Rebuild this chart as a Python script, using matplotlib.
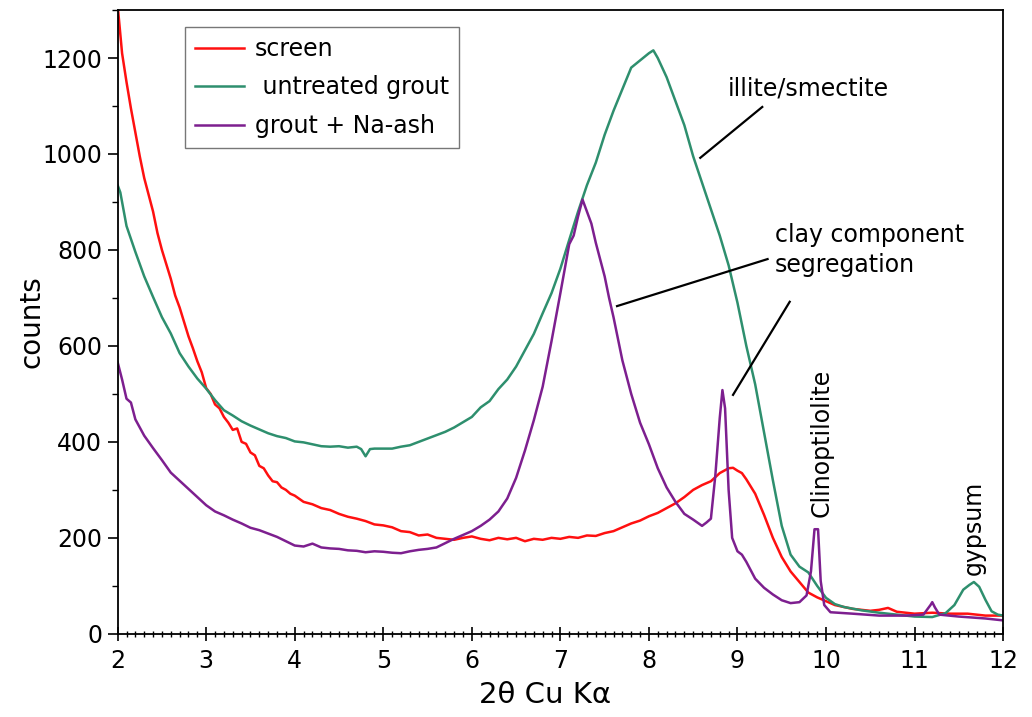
#!/usr/bin/env python3
"""
XRD pattern comparison: screen, untreated grout and grout + Na-ash
"""

import matplotlib
matplotlib.use("Agg")
import matplotlib.pyplot as plt
from matplotlib.ticker import MultipleLocator

# screen (red)
screen_x = [2.00, 2.05, 2.10, 2.15, 2.20, 2.25, 2.30, 2.35, 2.40, 2.45, 2.50, 2.55,
            2.60, 2.65, 2.70, 2.75, 2.80, 2.85, 2.90, 2.95, 3.00, 3.05, 3.10, 3.15,
            3.20, 3.25, 3.30, 3.35, 3.40, 3.45, 3.50, 3.55, 3.60, 3.65, 3.70, 3.75,
            3.80, 3.85, 3.90, 3.95, 4.00, 4.10, 4.20, 4.30, 4.40, 4.50, 4.60, 4.70,
            4.80, 4.90, 5.00, 5.10, 5.20, 5.30, 5.40, 5.50, 5.60, 5.70, 5.80, 5.90,
            6.00, 6.10, 6.20, 6.30, 6.40, 6.50, 6.60, 6.70, 6.80, 6.90, 7.00, 7.10,
            7.20, 7.30, 7.40, 7.50, 7.60, 7.70, 7.80, 7.90, 8.00, 8.10, 8.20, 8.30,
            8.40, 8.50, 8.60, 8.70, 8.80, 8.90, 8.95, 9.00, 9.05, 9.10, 9.20, 9.30,
            9.40, 9.50, 9.60, 9.70, 9.80, 9.90, 10.00, 10.10, 10.20, 10.30, 10.40,
            10.50, 10.60, 10.70, 10.80, 10.90, 11.00, 11.20, 11.40, 11.60, 11.80, 12.00]
screen_y = [1310, 1210, 1150, 1095, 1045, 995, 950, 915, 880, 835, 800, 770,
            740, 705, 680, 650, 620, 595, 568, 545, 512, 500, 478, 470,
            452, 440, 425, 428, 400, 396, 378, 372, 350, 345, 330, 318,
            316, 305, 300, 292, 288, 275, 270, 262, 258, 250, 244, 240,
            235, 228, 226, 222, 214, 212, 205, 207, 200, 198, 196, 200,
            203, 198, 195, 200, 197, 200, 193, 198, 196, 200, 198, 202,
            200, 205, 204, 210, 214, 222, 230, 236, 245, 252, 262, 272,
            285, 300, 310, 318, 335, 345, 346, 340, 335, 322, 292, 248,
            200, 160, 130, 108, 86, 76, 68, 60, 56, 52, 50,
            48, 50, 54, 46, 44, 42, 44, 42, 42, 38, 38]

# untreated grout (green)
grout_x = [2.00, 2.03, 2.10, 2.20, 2.30, 2.40, 2.50, 2.60, 2.70, 2.80, 2.90, 3.00,
           3.10, 3.20, 3.30, 3.40, 3.50, 3.60, 3.70, 3.80, 3.90, 4.00, 4.10, 4.20,
           4.30, 4.40, 4.50, 4.60, 4.70, 4.75, 4.80, 4.85, 4.90, 5.00, 5.10, 5.20,
           5.30, 5.40, 5.50, 5.60, 5.70, 5.80, 5.90, 6.00, 6.10, 6.20, 6.30, 6.40,
           6.50, 6.60, 6.70, 6.80, 6.90, 7.00, 7.10, 7.20, 7.30, 7.40, 7.50, 7.60,
           7.70, 7.80, 7.90, 8.00, 8.05, 8.10, 8.20, 8.30, 8.40, 8.50, 8.60, 8.70,
           8.80, 8.90, 9.00, 9.10, 9.20, 9.30, 9.40, 9.50, 9.60, 9.70, 9.80, 9.90,
           10.00, 10.10, 10.20, 10.40, 10.60, 10.80, 11.00, 11.20, 11.35, 11.45,
           11.55, 11.62, 11.67, 11.73, 11.80, 11.87, 11.94, 12.00]
grout_y = [935, 920, 850, 796, 745, 702, 660, 626, 585, 557, 532, 511,
           487, 466, 455, 443, 434, 426, 418, 412, 408, 401, 399, 395,
           391, 390, 391, 388, 390, 385, 370, 385, 386, 386, 386, 390,
           393, 400, 407, 414, 421, 430, 441, 452, 472, 485, 510, 530,
           557, 591, 625, 668, 710, 761, 821, 880, 935, 982, 1040, 1090,
           1135, 1180, 1195, 1210, 1216, 1200, 1160, 1110, 1060, 995, 940, 885,
           830, 768, 690, 600, 520, 420, 320, 225, 165, 140, 128, 100,
           75, 62, 56, 49, 44, 40, 36, 35, 43, 60,
           92, 102, 108, 98, 71, 47, 40, 38]

# grout + Na-ash (purple)
ash_x = [2.00, 2.05, 2.10, 2.15, 2.20, 2.30, 2.40, 2.50, 2.60, 2.70, 2.80, 2.90,
         3.00, 3.10, 3.20, 3.30, 3.40, 3.50, 3.60, 3.70, 3.80, 3.90, 4.00, 4.10,
         4.20, 4.30, 4.40, 4.50, 4.60, 4.70, 4.80, 4.90, 5.00, 5.10, 5.20, 5.30,
         5.40, 5.50, 5.60, 5.70, 5.80, 5.90, 6.00, 6.10, 6.20, 6.30, 6.40, 6.50,
         6.60, 6.70, 6.80, 6.90, 7.00, 7.10, 7.15, 7.20, 7.25, 7.30, 7.35, 7.40,
         7.50, 7.55, 7.60, 7.65, 7.70, 7.80, 7.90, 8.00, 8.10, 8.20, 8.30, 8.40,
         8.50, 8.60, 8.65, 8.70, 8.75, 8.80, 8.83, 8.86, 8.90, 8.94, 9.00, 9.05,
         9.10, 9.20, 9.30, 9.40, 9.50, 9.60, 9.70, 9.78, 9.83, 9.87, 9.91, 9.94,
         9.98, 10.05, 10.30, 10.60, 10.90, 11.10, 11.18, 11.20, 11.23, 11.28,
         11.50, 11.80, 12.00]
ash_y = [566, 530, 490, 482, 447, 413, 387, 362, 336, 319, 302, 285,
         268, 255, 247, 238, 230, 221, 216, 209, 202, 193, 184, 182,
         188, 180, 178, 177, 174, 173, 170, 172, 171, 169, 168, 172,
         175, 177, 180, 189, 198, 206, 214, 225, 238, 255, 282, 325,
         382, 445, 515, 610, 710, 812, 830, 870, 905, 880, 855, 815,
         745, 700, 660, 615, 570, 500, 440, 395, 345, 305, 275, 250,
         238, 225, 232, 240, 330, 450, 508, 470, 300, 200, 172, 165,
         150, 115, 96, 82, 70, 64, 66, 80, 130, 218, 218, 110,
         60, 45, 42, 38, 38, 40, 60, 66, 55, 40,
         36, 32, 28]

series_labels = ["screen", " untreated grout", "grout + Na-ash"]
series_colors = ["#ff1010", "#2e8f6e", "#7d1f8f"]


def main():
    fig = plt.figure(figsize=(10.32, 7.17), dpi=100)
    ax = fig.add_axes([0.114, 0.116, 0.858, 0.870])

    ax.plot(screen_x, screen_y, color=series_colors[0], lw=1.8, label=series_labels[0])
    ax.plot(grout_x, grout_y, color=series_colors[1], lw=1.8, label=series_labels[1])
    ax.plot(ash_x, ash_y, color=series_colors[2], lw=1.8, label=series_labels[2])

    ax.set_xlim(2, 12)
    ax.set_ylim(0, 1300)

    # ticks
    ax.xaxis.set_major_locator(MultipleLocator(1))
    ax.xaxis.set_minor_locator(MultipleLocator(0.1))
    ax.yaxis.set_major_locator(MultipleLocator(200))
    ax.yaxis.set_minor_locator(MultipleLocator(100))
    ax.tick_params(axis='x', which='major', direction='inout', length=10, width=1.2,
                   labelsize=17, pad=6)
    ax.tick_params(axis='x', which='minor', direction='inout', length=5, width=1)
    ax.tick_params(axis='y', which='major', direction='out', length=7, width=1.2,
                   labelsize=17, pad=4)
    ax.tick_params(axis='y', which='minor', direction='out', length=4, width=1)
    for s in ax.spines.values():
        s.set_linewidth(1.3)

    ax.set_xlabel("2θ Cu Kα", fontsize=21)
    ax.xaxis.set_label_coords(0.483, -0.075)
    ax.set_ylabel("counts", fontsize=20)
    ax.yaxis.set_label_coords(-0.082, 0.5)

    leg = ax.legend(loc='upper left', bbox_to_anchor=(0.0757, 0.973), borderaxespad=0,
                    fontsize=17, frameon=True, fancybox=False, framealpha=1,
                    handlelength=2.1, handletextpad=0.45, labelspacing=0.62,
                    borderpad=0.42)
    leg.get_frame().set_edgecolor('#777777')
    leg.get_frame().set_linewidth(1.0)

    # annotations
    ax.text(8.89, 1137, "illite/smectite", fontsize=17, ha='left', va='center')
    ax.plot([9.28, 8.58], [1098, 992], color='black', lw=1.6)

    ax.text(9.42, 800, "clay component\nsegregation", fontsize=17, ha='left',
            va='center', linespacing=1.3)
    ax.plot([9.34, 7.64], [781, 683], color='black', lw=1.6)
    ax.plot([9.59, 8.95], [692, 498], color='black', lw=1.6)

    ax.text(9.95, 244, "Clinoptilolite", fontsize=17, rotation=90,
            ha='center', va='bottom')
    ax.text(11.67, 123, "gypsum", fontsize=17, rotation=90,
            ha='center', va='bottom')

    fig.savefig("out.png", dpi=100)
    plt.close(fig)


if __name__ == "__main__":
    main()
